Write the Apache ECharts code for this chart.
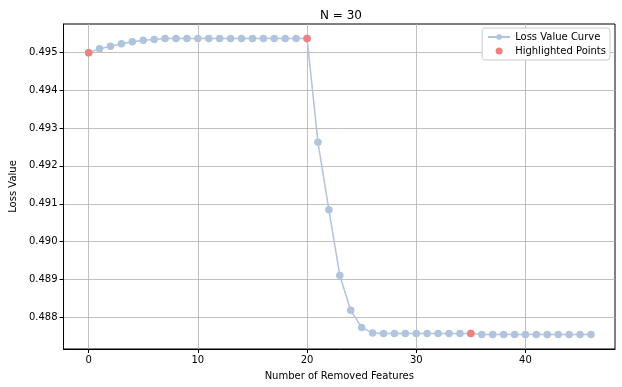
<!DOCTYPE html>
<html><head><meta charset="utf-8">
<script src="https://cdn.jsdelivr.net/npm/echarts@6/dist/echarts.min.js"></script>
<style>html,body{margin:0;padding:0;background:#fff}#c{width:622px;height:387px}</style>
</head><body><div id="c"></div>
<script>
const xValues = [0,1,2,3,4,5,6,7,8,9,10,11,12,13,14,15,16,17,18,19,20,21,22,23,24,25,26,27,28,29,30,31,32,33,34,35,36,37,38,39,40,41,42,43,44,45,46];
const lossValues = [0.49498,0.49509,0.49515,0.49522,0.49527,0.49531,0.49533,0.49536,0.49536,0.49536,0.49536,0.49536,0.49536,0.49536,0.49536,0.49536,0.49536,0.49536,0.49536,0.49536,0.49536,
  0.49262,0.49084,0.48911,0.48819,0.48774,0.48759,0.48758,0.48758,0.48758,0.48758,0.48758,0.48758,0.48758,0.48758,0.48758,
  0.48755,0.48755,0.48755,0.48755,0.48755,0.48755,0.48755,0.48755,0.48755,0.48755,0.48755];
const highlightX = [0,20,35];
const xTicks = [0,10,20,30,40];
const yTicks = [0.488,0.489,0.490,0.491,0.492,0.493,0.494,0.495];

const lineData = xValues.map((x,i)=>[x,lossValues[i]]);
const hiData = highlightX.map(x=>[x,lossValues[xValues.indexOf(x)]]);
const font = 'DejaVu Sans';
const chart = echarts.init(document.getElementById('c'));
chart.setOption({
  animation:false,
  textStyle:{fontFamily:font},
  title:{text:'N = 30',left:336,top:5,textAlign:'center',textStyle:{fontFamily:font,fontSize:12,fontWeight:'normal',color:'#000'}},
  grid:{left:57.5,right:7,top:24,bottom:38,show:true,borderColor:'#000',borderWidth:1},
  legend:{right:12,top:28,orient:'vertical',itemGap:4,itemWidth:22,itemHeight:7,
    backgroundColor:'#fff',borderColor:'#ccc',borderWidth:1,borderRadius:3,padding:[4,4,4,5],
    textStyle:{fontFamily:font,fontSize:10,color:'#000'},
    data:[{name:'Loss Value Curve'},{name:'Highlighted Points',icon:'circle'}]},
  xAxis:{type:'value',min:-2.3,max:48.2,
    name:'Number of Removed Features',nameLocation:'middle',nameGap:22,
    nameTextStyle:{fontFamily:font,fontSize:10,color:'#000'},
    axisLine:{onZero:false,lineStyle:{color:'#000'}},
    axisTick:{show:true,customValues:xTicks,length:4,lineStyle:{color:'#000'}},
    axisLabel:{customValues:xTicks,fontFamily:font,fontSize:10,color:'#000',margin:6},
    splitLine:{show:true,lineStyle:{color:'#b0b0b0',width:0.8}}},
  yAxis:{type:'value',min:0.48717,max:0.49574,
    name:'Loss Value',nameLocation:'middle',nameGap:44,nameRotate:90,
    nameTextStyle:{fontFamily:font,fontSize:10,color:'#000'},
    axisLine:{show:true,onZero:false,lineStyle:{color:'#000'}},
    axisTick:{show:true,customValues:yTicks,length:4,lineStyle:{color:'#000'}},
    axisLabel:{customValues:yTicks,fontFamily:font,fontSize:10,color:'#000',margin:6,formatter:v=>v.toFixed(3)},
    splitLine:{show:true,lineStyle:{color:'#b0b0b0',width:0.8}}},
  series:[
    {name:'Loss Value Curve',type:'line',data:lineData,symbol:'circle',symbolSize:7.5,
      lineStyle:{color:'#b0c4de',width:1.5},itemStyle:{color:'#b0c4de'},z:2},
    {name:'Highlighted Points',type:'scatter',data:hiData,symbolSize:7.5,itemStyle:{color:'#f08080',opacity:1},z:3}
  ]
});
</script></body></html>
